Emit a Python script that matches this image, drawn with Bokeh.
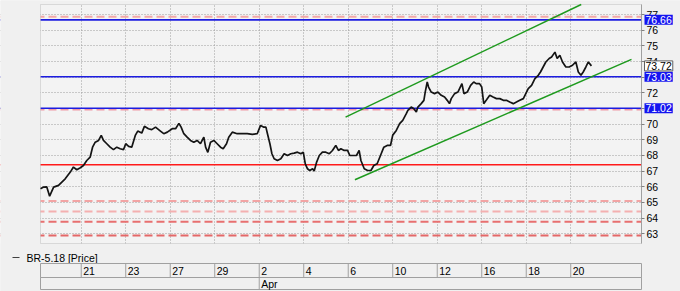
from bokeh.plotting import figure
from bokeh.models import Range1d, LinearAxis, FixedTicker, Grid, Span, Label, BoxAnnotation
from bokeh.embed import file_html
from bokeh.resources import INLINE
from bokeh.core.properties import value

# ---------------- data ----------------
# time in trading days from Mon 19 Mar 2018 (0 = 19 Mar)
t = [0.17, 0.31, 0.45, 0.58, 0.76, 0.98, 1.13, 1.28, 1.51, 1.65, 1.80, 1.96, 2.10, 2.25, 2.40,
     2.51, 2.63, 2.78, 2.90, 3.00, 3.15, 3.30, 3.45, 3.60, 3.75, 3.90, 4.00, 4.13, 4.27, 4.43,
     4.54, 4.72, 4.84, 5.02, 5.17, 5.34, 5.56, 5.71, 5.87, 6.09, 6.24, 6.39, 6.49, 6.61, 6.76,
     6.91, 7.06, 7.21, 7.36, 7.51, 7.59, 7.69, 7.81, 7.96, 8.11, 8.26, 8.38, 8.53, 8.63, 8.79,
     9.01, 9.24, 9.46, 9.69, 9.91, 10.06, 10.21, 10.30, 10.37, 10.48, 10.57, 10.67, 10.82, 10.97,
     11.12, 11.27, 11.42, 11.57, 11.72, 11.87, 11.98, 12.07, 12.17, 12.27, 12.40, 12.47, 12.58,
     12.70, 12.84, 12.99, 13.15, 13.29, 13.44, 13.56, 13.67, 13.82, 13.97, 14.07, 14.22, 14.37,
     14.49, 14.57, 14.72, 14.87, 15.02, 15.15, 15.30, 15.45, 15.60, 15.75, 15.90, 16.00, 16.16,
     16.31, 16.45, 16.61, 16.68, 16.83, 16.95, 17.06, 17.13, 17.28, 17.40, 17.46, 17.55, 17.61,
     17.73, 17.88, 18.03, 18.18, 18.33, 18.45, 18.55, 18.63, 18.78, 18.93, 19.11, 19.20, 19.35,
     19.50, 19.64, 19.75, 19.90, 20.00, 20.09, 20.20, 20.36, 20.51, 20.66, 20.81, 20.97, 21.11,
     21.26, 21.42, 21.56, 21.71, 21.87, 21.98, 22.09, 22.24, 22.39, 22.54, 22.64, 22.76, 22.88,
     23.03, 23.14, 23.29, 23.39, 23.51, 23.63, 23.78, 23.93, 24.08, 24.23, 24.34, 24.46, 24.56,
     24.68, 24.79, 24.93]
price = [65.87, 65.98, 66.00, 65.40, 65.98, 66.09, 66.30, 66.51, 66.94, 67.26, 67.09, 67.22, 67.36, 67.68, 67.89,
         68.53, 68.85, 68.96, 69.28, 68.96, 68.75, 68.53, 68.37, 68.53, 68.43, 68.37, 68.75, 68.58, 68.53, 69.28,
         69.56, 69.43, 69.86, 69.71, 69.65, 69.81, 69.56, 69.39, 69.49, 69.71, 69.71, 70.05, 69.81, 69.39, 69.17,
         68.96, 68.85, 68.96, 68.75, 69.17, 68.53, 68.20, 68.85, 68.96, 68.75, 68.53, 68.43, 68.75, 69.17, 69.49,
         69.39, 69.39, 69.39, 69.35, 69.39, 69.92, 69.81, 69.81, 69.39, 68.75, 68.11, 67.79, 67.68, 67.79,
         68.11, 68.00, 68.11, 68.15, 68.21, 68.11, 68.21, 67.47, 67.15, 67.04, 67.15, 67.00, 67.58,
         68.00, 68.21, 68.21, 68.11, 68.32, 68.64, 68.32, 68.43, 68.32, 68.32, 68.00, 68.00, 68.00,
         68.32, 67.68, 67.15, 67.04, 67.04, 67.36, 67.47, 68.00, 68.53, 68.64, 68.64, 69.30, 69.60,
         70.03, 70.24, 70.67, 70.88, 71.09, 70.99, 70.77, 71.09, 71.31, 71.52, 72.05, 72.69, 72.37,
         72.05, 71.95, 72.05, 71.84, 71.73, 71.52, 71.31, 71.63, 71.95, 72.05, 72.59, 71.95, 72.05,
         72.48, 72.69, 72.59, 72.59, 72.37, 71.31, 71.52, 71.84, 71.73, 71.63, 71.63, 71.52, 71.52,
         71.41, 71.31, 71.41, 71.52, 71.63, 71.95, 72.27, 72.48, 72.91, 73.12, 73.33, 73.65, 73.97,
         74.19, 74.29, 74.60, 74.19, 74.40, 73.97, 73.65, 73.65, 73.76, 73.97, 73.33, 73.12, 73.33,
         73.65, 73.97, 73.72]
last_price = 73.72

tick_days = [2, 4, 6, 8, 10, 12, 14, 16, 18, 20, 22, 24]
tick_labels = ["21", "23", "27", "29", "2", "4", "6", "10", "12", "16", "18", "20"]
month_days = [10]
month_labels = ["Apr"]
y_ticks = list(range(63, 78))

blue_levels = [76.66, 73.03, 71.02]
red_levels = [67.41]
dashed_levels = [76.85, 70.93, 65.10, 64.42, 63.77, 62.89]

channel_x0 = [13.88, 14.30]
channel_y0 = [70.45, 66.45]
channel_x1 = [24.47, 26.73]
channel_y1 = [77.64, 74.14]

legend_name = "BR-5.18 [Price]"

# ---------------- styles / layout ----------------
FONT = "Liberation Sans"
FS = "10.5px"
W, H = 680, 291
LEFT, RIGHT, TOP, BOTTOM = 40, 39, 4, 48
X0, X1 = 0.17, 27.18          # visible time span of the price panel
Y0, Y1 = 62.38, 77.64         # visible price span
KX = (X1 - X0) / (W - LEFT - RIGHT)
KY = (Y1 - Y0) / (H - TOP - BOTTOM)
XS, XE = X0 - LEFT * KX, X1 + RIGHT * KX
YS, YE = Y0 - BOTTOM * KY, Y1 + TOP * KY


def xpx(px):
    return XS + px * KX


def ypx(py):
    return YE - py * KY


BG = "#f0f0f0"
dashed_colors = ["#f2a8a8", "#f09aa6", "#f2a4a4", "#f4b0b0", "#e87070", "#e46868"]

p = figure(width=W, height=H, x_range=Range1d(XS, XE), y_range=Range1d(YS, YE),
           x_axis_location=None, y_axis_location=None, toolbar_location=None,
           output_backend="svg", min_border=0,
           background_fill_color=BG, border_fill_color=BG, outline_line_color=None)
p.grid.visible = False

# plot area
p.add_layout(BoxAnnotation(left=X0, right=X1, bottom=Y0, top=Y1, fill_color="#f3f3f3",
                           fill_alpha=1, line_color=None, level="underlay"))
p.add_layout(Grid(dimension=1, ticker=FixedTicker(ticks=y_ticks), grid_line_color="#9c9c9c",
                  grid_line_dash="1 2", grid_line_width=1))
p.add_layout(Grid(dimension=0, ticker=FixedTicker(ticks=tick_days), grid_line_color="#9c9c9c",
                  grid_line_dash="1 2", grid_line_width=1))

for lv, c in zip(dashed_levels, dashed_colors):
    p.add_layout(Span(location=lv, dimension="width", line_color=c, line_width=2,
                      line_dash="8 4", level="underlay"))
for lv in blue_levels:
    p.add_layout(Span(location=lv, dimension="width", line_color="#1c1ce0", line_width=1.6,
                      level="underlay"))
for lv in red_levels:
    p.add_layout(Span(location=lv, dimension="width", line_color="#ff1a1a", line_width=1.6,
                      level="underlay"))

# margins outside the plot area
for kw in (dict(right=X0), dict(left=X1), dict(bottom=Y1), dict(top=Y0)):
    p.add_layout(BoxAnnotation(fill_color=BG, fill_alpha=1, line_color=None, level="underlay", **kw))
p.add_layout(BoxAnnotation(left=X0, right=X1, bottom=Y0, top=Y1, fill_color=None,
                           line_color="#a0a0a0", line_width=1, level="underlay"))

p.segment(x0=channel_x0, y0=channel_y0, x1=channel_x1, y1=channel_y1,
          line_color="#1e9a1e", line_width=1.5)
p.line(t, price, line_color="#141414", line_width=1.7)

ax = LinearAxis(ticker=FixedTicker(ticks=y_ticks), fixed_location=X1, bounds=(Y0, Y1),
                major_label_text_font=FONT, major_label_text_font_size=FS,
                major_label_text_color="#000000", axis_line_color="#a0a0a0",
                major_tick_line_color="#808080", major_tick_out=3, major_tick_in=0,
                minor_tick_line_color=None, major_label_standoff=2)
p.add_layout(ax, "right")

for lv in blue_levels:
    p.add_layout(Label(x=X1, y=lv, text=f"{lv:.2f}", x_offset=3, text_baseline="middle",
                       text_font=FONT, text_font_size=FS, text_color="white",
                       background_fill_color="#1414f0", padding=1))
p.add_layout(Label(x=X1, y=last_price, text=f"{last_price:.2f}", x_offset=3,
                   text_baseline="middle", text_font=FONT, text_font_size=FS,
                   text_color="black", background_fill_color="white",
                   border_line_color="#606060", padding=1))

# ---------------- legend + date panel ----------------
p.segment(x0=[xpx(12)], y0=[ypx(257)], x1=[xpx(19)], y1=[ypx(257)], line_color="#404040", line_width=1)
p.text(x=[xpx(26)], y=[ypx(257)], text=[legend_name], text_baseline="middle",
       text_font=value(FONT), text_font_size=value(FS), text_color="black")

r1_top, r1_bot, r2_bot = ypx(263), ypx(277), ypx(289)
p.quad(left=[X0, X0], right=[X1, X1], top=[r1_top, r1_bot], bottom=[r1_bot, r2_bot],
       fill_color=None, line_color="#a0a0a0", line_width=1)
n = len(tick_days)
p.segment(x0=tick_days, y0=[r1_top] * n, x1=tick_days, y1=[r1_bot] * n,
          line_color="#a0a0a0", line_width=1)
p.text(x=tick_days, y=[(r1_top + r1_bot) / 2] * n, text=tick_labels, x_offset=2,
       text_baseline="middle", text_font=value(FONT), text_font_size=value(FS),
       text_color="black")
m = len(month_days)
p.segment(x0=month_days, y0=[r1_bot] * m, x1=month_days, y1=[r2_bot] * m,
          line_color="#a0a0a0", line_width=1)
p.text(x=month_days, y=[(r1_bot + r2_bot) / 2] * m, text=month_labels, x_offset=2,
       text_baseline="middle", text_font=value(FONT), text_font_size=value(FS),
       text_color="black")

open("out.html", "w").write(file_html(p, INLINE))
